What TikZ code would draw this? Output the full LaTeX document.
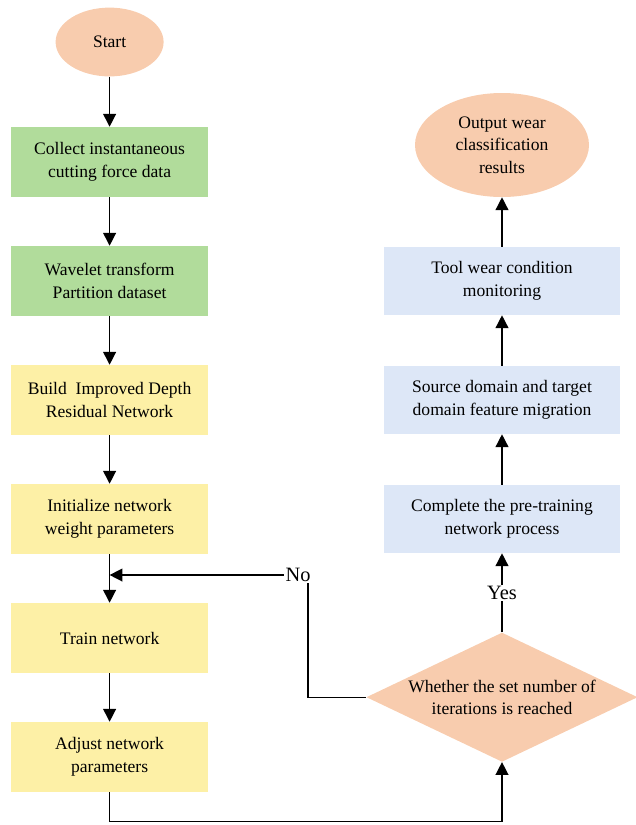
\documentclass[tikz,border=0pt]{standalone}
\usepackage{fontspec}
\setmainfont{Liberation Serif}
\usepackage{xcolor}
\usepackage{tikz}
\usetikzlibrary{
  shapes.geometric, arrows.meta, positioning
}
\definecolor{peachfill}{RGB}{248,204,174}
\definecolor{greenfill}{RGB}{177,220,155}
\definecolor{yellowfill}{RGB}{253,240,166}
\definecolor{bluefill}{RGB}{221,231,247}
\tikzset{
  flowbox/.style={
    rectangle, draw=none, align=center,
    font=\fontsize{12.5}{16}\selectfont,
    minimum width=4.925cm, minimum height=1.75cm
  },
  sidebox/.style={
    rectangle, draw=none, align=center, fill=bluefill,
    font=\fontsize{12.5}{16}\selectfont,
    minimum width=5.9cm, minimum height=1.7cm
  },
  endpoint/.style={
    ellipse, draw=none, fill=peachfill, align=center, inner sep=0pt,
    font=\fontsize{12.5}{16}\selectfont
  },
  decision/.style={
    diamond, draw=none, fill=peachfill, align=center, inner sep=0pt,
    shape aspect=2.1, minimum width=6.78cm, minimum height=3.23cm,
    font=\fontsize{12.5}{16}\selectfont
  },
  flowarrow/.style={
    -{Triangle[length=3.2mm, width=3.2mm]}, line width=1pt, black
  },
  flowline/.style={line width=1pt, black},
  branchlabel/.style={
    font=\fontsize{14.5}{16}\selectfont, inner sep=1pt
  },
}

\begin{document}
\begin{tikzpicture}
  \useasboundingbox (0,0) rectangle (15.9,-20.625);

  % --- Left column: data and training ---
  \node[endpoint, minimum width=2.7cm, minimum height=1.72cm] (start) at (2.74, -1.05) {Start};
  \node[flowbox, fill=greenfill] (collect) at (2.74, -4.05) {Collect instantaneous\\cutting force data};
  \node[flowbox, fill=greenfill] (wavelet) at (2.74, -7.025) {Wavelet transform\\Partition dataset};
  \node[flowbox, fill=yellowfill] (build) at (2.74, -10.0) {Build~ Improved Depth\\Residual Network};
  \node[flowbox, fill=yellowfill] (init) at (2.74, -12.975) {Initialize network\\weight parameters};
  \node[flowbox, fill=yellowfill] (train) at (2.74, -15.95) {Train network};
  \node[flowbox, fill=yellowfill] (adjust) at (2.74, -18.925) {Adjust network\\parameters};

  % --- Right column: transfer and output ---
  \node[endpoint, minimum width=4.35cm, minimum height=2.6cm] (output) at (12.55, -3.625)
    {Output wear\\classification\\results};
  \node[sidebox] (monitor) at (12.55, -7.025) {Tool wear condition\\monitoring};
  \node[sidebox] (migrate) at (12.55, -10.0) {Source domain and target\\domain feature migration};
  \node[sidebox] (pretrain) at (12.55, -12.975) {Complete the pre-training\\network process};
  \node[decision] (check) at (12.55, -17.43) {Whether the set number of\\iterations is reached};

  % --- Branch labels ---
  \node[branchlabel] (yes) at (12.55, -14.825) {Yes};
  \node[branchlabel] (no) at (7.45, -14.375) {No};
  \coordinate (nocorner) at (7.7, -17.43);

  % --- Arrows ---
  \draw[flowarrow] (start.south) -- (collect.north);
  \draw[flowarrow] (collect.south) -- (wavelet.north);
  \draw[flowarrow] (wavelet.south) -- (build.north);
  \draw[flowarrow] (build.south) -- (init.north);
  \draw[flowarrow] (init.south) -- (train.north);
  \draw[flowarrow] (train.south) -- (adjust.north);
  \draw[flowarrow] (adjust.south) -- ++(0,-0.725) -| (check.south);
  \draw[flowline] (check.north) -- (yes.south);
  \draw[flowarrow] (yes.north) -- (pretrain.south);
  \draw[flowarrow] (pretrain.north) -- (migrate.south);
  \draw[flowarrow] (migrate.north) -- (monitor.south);
  \draw[flowarrow] (monitor.north) -- (output.south);
  \draw[flowline] (check.west) -- (nocorner) -- (nocorner |- no.south);
  \draw[flowarrow] (no.west) -- (no.west -| init.south);

\end{tikzpicture}
\end{document}
